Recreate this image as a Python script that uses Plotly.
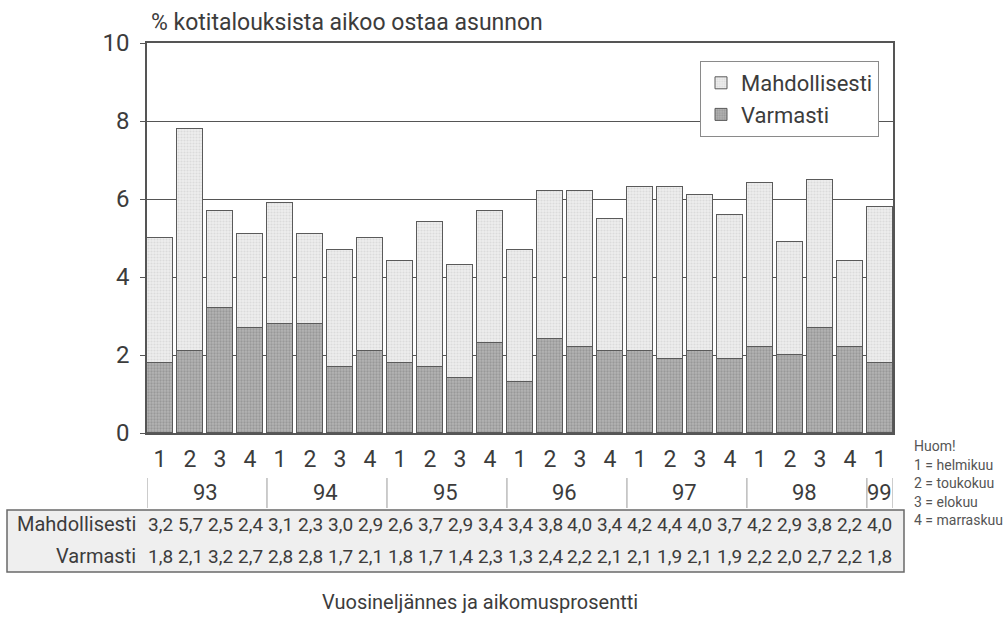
import plotly.graph_objects as go

# Quarterly housing purchase intentions, 1993 Q1 - 1999 Q1
quarters = ["1", "2", "3", "4"] * 6 + ["1"]
years = ["93", "94", "95", "96", "97", "98", "99"]
year_lengths = [4, 4, 4, 4, 4, 4, 1]
mahdollisesti = [3.2, 5.7, 2.5, 2.4, 3.1, 2.3, 3.0, 2.9, 2.6, 3.7, 2.9, 3.4,
                 3.4, 3.8, 4.0, 3.4, 4.2, 4.4, 4.0, 3.7, 4.2, 2.9, 3.8, 2.2, 4.0]
varmasti = [1.8, 2.1, 3.2, 2.7, 2.8, 2.8, 1.7, 2.1, 1.8, 1.7, 1.4, 2.3,
            1.3, 2.4, 2.2, 2.1, 2.1, 1.9, 2.1, 1.9, 2.2, 2.0, 2.7, 2.2, 1.8]
y_ticks = [0, 2, 4, 6, 8, 10]
notes = ["Huom!", "1 = helmikuu", "2 = toukokuu", "3 = elokuu", "4 = marraskuu"]

FONT = "Roboto, Arial, sans-serif"
TXT = "#3c3c3c"
BW = 0.87
x = list(range(len(quarters)))

fig = go.Figure()
fig.add_trace(go.Bar(
    x=x, y=varmasti, name="Varmasti", width=BW,
    marker=dict(color="#aaaaaa", line=dict(color="#5a5a5a", width=1),
                pattern=dict(shape=".", fgcolor="#7c7c7c", bgcolor="#b4b4b4",
                             size=3, solidity=0.45)),
))
fig.add_trace(go.Bar(
    x=x, y=mahdollisesti, name="Mahdollisesti", width=BW,
    marker=dict(color="#e6e6e6", line=dict(color="#5a5a5a", width=1),
                pattern=dict(shape=".", fgcolor="#c8c8c8", bgcolor="#eeeeee",
                             size=3, solidity=0.4)),
))

# plot area in pixels: x 147..893, y 43..433
def py(p):
    return (433 - p) / 390.0

def px(p):
    return (p - 147) / 746.0

ann = []
shapes = []

# chart heading
ann.append(dict(text="% kotitalouksista aikoo ostaa asunnon", xref="paper", yref="paper",
                x=px(149), y=py(23), xanchor="left", yanchor="middle", showarrow=False,
                font=dict(size=23, color=TXT, family=FONT)))

# year row with separators
start = 0
for yr, n in zip(years, year_lengths):
    centre = start + (n - 1) / 2.0
    ann.append(dict(text=yr, xref="x", yref="paper", x=centre, y=py(493),
                    xanchor="center", yanchor="middle", showarrow=False,
                    font=dict(size=22, color=TXT, family=FONT)))
    shapes.append(dict(type="line", xref="x", yref="paper", x0=start - BW / 2, x1=start - BW / 2,
                       y0=py(478), y1=py(508), line=dict(color="#9a9a9a", width=1)))
    start += n
shapes.append(dict(type="line", xref="x", yref="paper", x0=start - 1 + BW / 2, x1=start - 1 + BW / 2,
                   y0=py(478), y1=py(508), line=dict(color="#9a9a9a", width=1)))

# data table box
shapes.append(dict(type="rect", xref="paper", yref="paper", x0=px(7), x1=px(904),
                   y0=py(572), y1=py(510), fillcolor="#efefef",
                   line=dict(color="#6a6a6a", width=1.5), layer="below"))

for label, vals, row_y in [("Mahdollisesti", mahdollisesti, 524), ("Varmasti", varmasti, 556)]:
    ann.append(dict(text=label, xref="paper", yref="paper", x=px(138), y=py(row_y),
                    xanchor="right", yanchor="middle", showarrow=False,
                    font=dict(size=20, color=TXT, family=FONT)))
    for xi, v in zip(x, vals):
        ann.append(dict(text=f"{v:.1f}".replace(".", ","), xref="x", yref="paper",
                        x=xi, y=py(row_y), xanchor="center", yanchor="middle",
                        showarrow=False, font=dict(size=19, color=TXT, family=FONT)))

# month key
for i, t in enumerate(notes):
    ann.append(dict(text=t, xref="paper", yref="paper", x=px(912), y=py(446 + i * 18.5),
                    xanchor="left", yanchor="middle", showarrow=False,
                    font=dict(size=14, color="#555555", family=FONT)))

# axis caption
ann.append(dict(text="Vuosineljännes ja aikomusprosentti", xref="paper", yref="paper",
                x=px(480), y=py(602), xanchor="center", yanchor="middle", showarrow=False,
                font=dict(size=20, color=TXT, family=FONT)))

fig.update_layout(
    barmode="stack",
    width=1005, height=619,
    margin=dict(l=147, r=112, t=43, b=186),
    paper_bgcolor="white", plot_bgcolor="white",
    font=dict(family=FONT, color=TXT),
    bargap=0,
    showlegend=True,
    legend=dict(x=px(879), y=py(61), xanchor="right", yanchor="top",
                traceorder="reversed", bgcolor="white", bordercolor="#8a8a8a",
                borderwidth=1, font=dict(size=22, color=TXT, family=FONT),
                itemwidth=30),
    annotations=ann,
    shapes=shapes,
    xaxis=dict(range=[-BW / 2, len(x) - 1 + BW / 2], tickmode="array", tickvals=x,
               ticktext=quarters, showgrid=False, zeroline=False, showline=True,
               linecolor="#555555", linewidth=1.5, mirror=True, ticks="",
               tickfont=dict(size=23, color=TXT, family=FONT), ticklabelstandoff=5),
    yaxis=dict(range=[0, 10], tickvals=y_ticks, showgrid=True, gridcolor="#555555",
               gridwidth=1.2, zeroline=False, showline=True, linecolor="#555555",
               linewidth=1.5, mirror=True, ticks="outside", ticklen=5, tickcolor="#555555",
               tickfont=dict(size=24, color=TXT, family=FONT), ticklabelstandoff=6),
)

fig.write_html("out.html")
